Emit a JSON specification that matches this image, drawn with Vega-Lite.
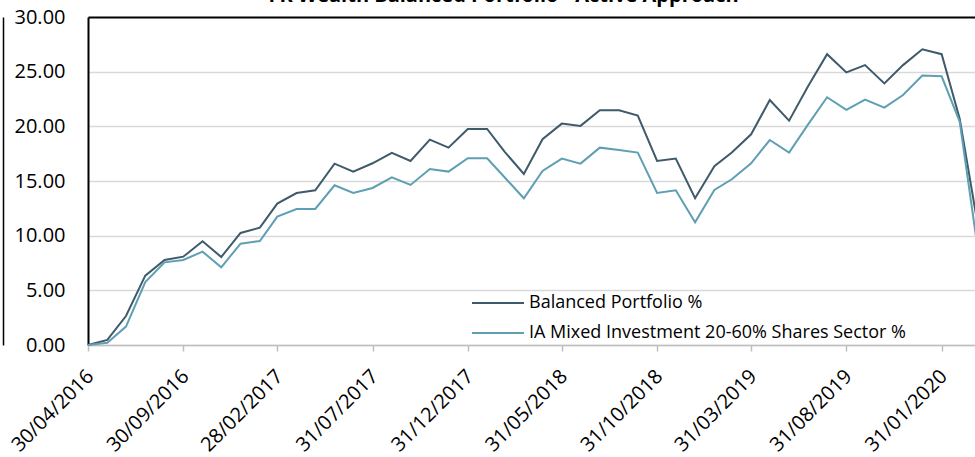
{
  "$schema": "https://vega.github.io/schema/vega-lite/v6.json",
  "width": 891,
  "height": 328,
  "autosize": {"type": "none"},
  "padding": {"left": 88, "top": 17, "right": 0, "bottom": 112},
  "background": "white",
  "title": {
    "text": "FK Wealth Balanced Portfolio - Active Approach",
    "frame": "group",
    "anchor": "middle",
    "dx": -30,
    "offset": 0,
    "dy": 15,
    "baseline": "alphabetic",
    "font": "Open Sans",
    "fontSize": 20,
    "fontWeight": "bold",
    "color": "black"
  },
  "config": {"view": {"stroke": null}},
  "datasets": {
    "series": [
      {"date": "2016-04-30", "Balanced": 0, "Sector": 0},
      {"date": "2016-05-31", "Balanced": 0.46, "Sector": 0.21},
      {"date": "2016-06-30", "Balanced": 2.65, "Sector": 1.68},
      {"date": "2016-07-31", "Balanced": 6.34, "Sector": 5.76},
      {"date": "2016-08-31", "Balanced": 7.78, "Sector": 7.56},
      {"date": "2016-09-30", "Balanced": 8.08, "Sector": 7.78},
      {"date": "2016-10-31", "Balanced": 9.49, "Sector": 8.54},
      {"date": "2016-11-30", "Balanced": 8.05, "Sector": 7.11},
      {"date": "2016-12-31", "Balanced": 10.25, "Sector": 9.27},
      {"date": "2017-01-31", "Balanced": 10.73, "Sector": 9.51},
      {"date": "2017-02-28", "Balanced": 12.93, "Sector": 11.74},
      {"date": "2017-03-31", "Balanced": 13.9, "Sector": 12.44},
      {"date": "2017-04-30", "Balanced": 14.15, "Sector": 12.44},
      {"date": "2017-05-31", "Balanced": 16.59, "Sector": 14.61},
      {"date": "2017-06-30", "Balanced": 15.86, "Sector": 13.91},
      {"date": "2017-07-31", "Balanced": 16.62, "Sector": 14.36},
      {"date": "2017-08-31", "Balanced": 17.57, "Sector": 15.34},
      {"date": "2017-09-30", "Balanced": 16.83, "Sector": 14.64},
      {"date": "2017-10-31", "Balanced": 18.78, "Sector": 16.1},
      {"date": "2017-11-30", "Balanced": 18.05, "Sector": 15.86},
      {"date": "2017-12-31", "Balanced": 19.76, "Sector": 17.08},
      {"date": "2018-01-31", "Balanced": 19.76, "Sector": 17.08},
      {"date": "2018-02-28", "Balanced": 17.69, "Sector": 15.34},
      {"date": "2018-03-31", "Balanced": 15.64, "Sector": 13.42},
      {"date": "2018-04-30", "Balanced": 18.82, "Sector": 15.92},
      {"date": "2018-05-31", "Balanced": 20.25, "Sector": 17.05},
      {"date": "2018-06-30", "Balanced": 20.04, "Sector": 16.59},
      {"date": "2018-07-31", "Balanced": 21.47, "Sector": 18.05},
      {"date": "2018-08-31", "Balanced": 21.47, "Sector": 17.84},
      {"date": "2018-09-30", "Balanced": 20.98, "Sector": 17.6},
      {"date": "2018-10-31", "Balanced": 16.83, "Sector": 13.91},
      {"date": "2018-11-30", "Balanced": 17.05, "Sector": 14.15},
      {"date": "2018-12-31", "Balanced": 13.42, "Sector": 11.22},
      {"date": "2019-01-31", "Balanced": 16.36, "Sector": 14.18},
      {"date": "2019-02-28", "Balanced": 17.6, "Sector": 15.16},
      {"date": "2019-03-31", "Balanced": 19.27, "Sector": 16.62},
      {"date": "2019-04-30", "Balanced": 22.41, "Sector": 18.75},
      {"date": "2019-05-31", "Balanced": 20.52, "Sector": 17.6},
      {"date": "2019-06-30", "Balanced": 23.63, "Sector": 20.13},
      {"date": "2019-07-31", "Balanced": 26.6, "Sector": 22.66},
      {"date": "2019-08-31", "Balanced": 24.93, "Sector": 21.5},
      {"date": "2019-09-30", "Balanced": 25.6, "Sector": 22.44},
      {"date": "2019-10-31", "Balanced": 23.93, "Sector": 21.71},
      {"date": "2019-11-30", "Balanced": 25.6, "Sector": 22.87},
      {"date": "2019-12-31", "Balanced": 27.05, "Sector": 24.64},
      {"date": "2020-01-31", "Balanced": 26.6, "Sector": 24.58},
      {"date": "2020-02-29", "Balanced": 20.7, "Sector": 20.43},
      {"date": "2020-03-31", "Balanced": 10.3, "Sector": 8.0}
    ]
  },
  "data": {"name": "series"},
  "transform": [
    {"fold": ["Balanced", "Sector"], "as": ["key", "value"]},
    {"lookup": "key", "from": {"data": {"values": [
      {"key": "Balanced", "series": "Balanced Portfolio %"},
      {"key": "Sector", "series": "IA Mixed Investment 20-60% Shares Sector %"}
    ]}, "key": "key", "fields": ["series"]}}
  ],
  "encoding": {
    "x": {
      "field": "date",
      "type": "temporal",
      "scale": {
        "type": "utc",
        "nice": false,
        "domain": [
          {"year": 2016, "month": 4, "date": 30, "utc": true},
          {"year": 2020, "month": 3, "date": 31, "utc": true}
        ]
      },
      "axis": {
        "title": null,
        "grid": false,
        "values": [
          {"year": 2016, "month": 4, "date": 30, "utc": true},
          {"year": 2016, "month": 9, "date": 30, "utc": true},
          {"year": 2017, "month": 2, "date": 28, "utc": true},
          {"year": 2017, "month": 7, "date": 31, "utc": true},
          {"year": 2017, "month": 12, "date": 31, "utc": true},
          {"year": 2018, "month": 5, "date": 31, "utc": true},
          {"year": 2018, "month": 10, "date": 31, "utc": true},
          {"year": 2019, "month": 3, "date": 31, "utc": true},
          {"year": 2019, "month": 8, "date": 31, "utc": true},
          {"year": 2020, "month": 1, "date": 31, "utc": true}
        ],
        "labelExpr": "utcFormat(datum.value, '%d/%m/%Y')",
        "labelAngle": -45,
        "labelAlign": "right",
        "labelBaseline": "middle",
        "labelFont": "Open Sans",
        "labelFontSize": 20,
        "labelColor": "black",
        "labelPadding": 22,
        "labelOffset": 2,
        "labelOverlap": false,
        "labelFlush": false,
        "labelBound": false,
        "tickColor": "#bfbfbf",
        "tickSize": 6,
        "tickWidth": 1.5,
        "domainColor": "#bfbfbf",
        "domainWidth": 1.5
      }
    }
  },
  "layer": [
    {
      "mark": {"type": "line", "strokeWidth": 2},
      "encoding": {
        "y": {
          "field": "value",
          "type": "quantitative",
          "scale": {"domain": [0, 30], "nice": false},
          "axis": {
            "title": null,
            "values": [0, 5, 10, 15, 20, 25, 30],
            "format": ".2f",
            "ticks": false,
            "labelFont": "Open Sans",
            "labelFontSize": 20,
            "labelColor": "black",
            "labelPadding": 23,
            "labelFlush": false,
            "domainColor": "black",
            "domainWidth": 2,
            "gridColor": {"condition": {"test": "datum.value === 30", "value": "black"}, "value": "#d9d9d9"},
            "gridWidth": {"condition": {"test": "datum.value === 30", "value": 2}, "value": 1.5}
          }
        },
        "color": {
          "field": "series",
          "type": "nominal",
          "scale": {
            "domain": ["Balanced Portfolio %", "IA Mixed Investment 20-60% Shares Sector %"],
            "range": ["#3E5A6B", "#5E9FB3"]
          },
          "legend": {
            "orient": "none",
            "legendX": 385,
            "legendY": 277,
            "title": null,
            "padding": 0,
            "symbolType": "M-5,0H5",
            "symbolSize": 108,
            "symbolStrokeWidth": 2,
            "symbolOffset": 16,
            "labelOffset": 22,
            "labelFont": "Open Sans",
            "labelFontSize": 18,
            "labelColor": "black",
            "labelLimit": 0,
            "rowPadding": 12
          }
        }
      }
    },
    {
      "mark": {"type": "line", "opacity": 0},
      "encoding": {
        "detail": {"field": "series", "type": "nominal"},
        "y": {
          "field": "value",
          "type": "quantitative",
          "scale": {"domain": [0, 30], "nice": false},
          "axis": {
            "title": null,
            "orient": "left",
            "offset": 85,
            "labels": false,
            "ticks": false,
            "grid": false,
            "domainColor": "black",
            "domainWidth": 1.5
          }
        }
      }
    }
  ],
  "resolve": {"axis": {"y": "independent"}}
}
